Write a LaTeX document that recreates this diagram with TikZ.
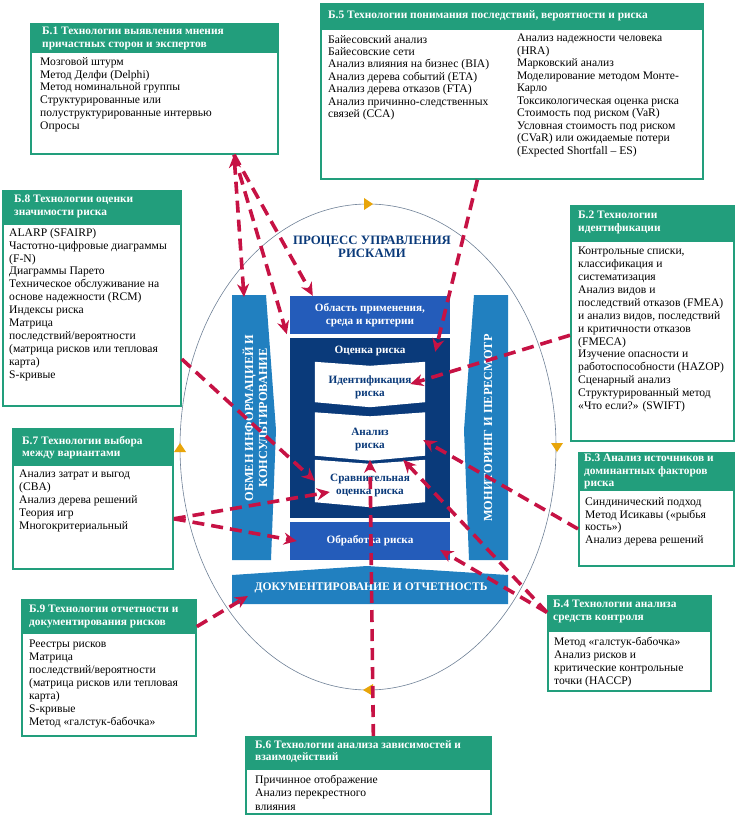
\documentclass[tikz,border=0pt]{standalone}
\usepackage{fontspec}
\setmainfont{Liberation Serif}
\usetikzlibrary{arrows.meta,calc}

\definecolor{boxgreen}{RGB}{34,158,124}
\definecolor{barblue}{RGB}{33,128,192}
\definecolor{midblue}{RGB}{36,92,186}
\definecolor{navy}{RGB}{10,58,122}
\definecolor{dashred}{RGB}{198,18,68}
\definecolor{markorange}{RGB}{232,165,10}
\definecolor{ringgray}{RGB}{110,128,150}

\tikzset{
  techbox/.style={draw=boxgreen, line width=1.8pt, fill=white, anchor=north west, inner sep=0pt},
  headtext/.style={anchor=north west, inner sep=0pt, align=left, text=white,
    font=\fontsize{11.4}{12.6}\selectfont\bfseries},
  listtext/.style={anchor=north west, inner sep=0pt, align=left,
    font=\fontsize{11.6}{12.9}\selectfont},
  block/.style={inner sep=0pt, minimum width=160pt, align=center, text=white,
    font=\fontsize{11.2}{13.5}\selectfont\bfseries},
  panel/.style={inner sep=0pt, minimum width=110pt, align=center, text=navy,
    font=\fontsize{11.2}{13}\selectfont\bfseries},
  bartext/.style={inner sep=0pt, align=center, text=white,
    font=\fontsize{12.3}{14}\selectfont\bfseries},
  link/.style={dashred, line width=3.6pt, dash pattern=on 12pt off 7pt,
    -{Stealth[length=13pt,width=12pt]}}
}

\begin{document}
\begin{tikzpicture}[x=1pt,y=1pt]
  \useasboundingbox (0,0) rectangle (734,-818);

  % process ring and its markers
  \draw[ringgray, line width=0.6pt] (368,-447) ellipse [x radius=188pt, y radius=243pt];
  \fill[markorange] (364,-198) -- (373,-204) -- (364,-210) -- cycle;
  \fill[markorange] (551,-443) -- (563,-443) -- (557,-452) -- cycle;
  \fill[markorange] (373,-684) -- (363,-690) -- (373,-696) -- cycle;
  \fill[markorange] (174,-452) -- (186,-452) -- (180,-443) -- cycle;

  \node[text=navy, align=center, font=\fontsize{12.8}{13.5}\selectfont\bfseries] (title)
    at (372,-247) {ПРОЦЕСС УПРАВЛЕНИЯ\\РИСКАМИ};

  % side and bottom bars
  \fill[barblue] (232,-295) -- (266,-295) -- (276,-430) -- (271,-560) -- (232,-560) -- cycle;
  \fill[barblue] (508,-295) -- (474,-295) -- (464,-430) -- (469,-560) -- (508,-560) -- cycle;
  \fill[barblue] (232,-575) -- (367,-566) -- (508,-575) -- (508,-604) -- (232,-604) -- cycle;
  \node[bartext, rotate=90] (consult) at (255,-418) {ОБМЕН ИНФОРМАЦИЕЙ И\\КОНСУЛЬТИРОВАНИЕ};
  \node[bartext, rotate=90] (monitor) at (488,-428) {МОНИТОРИНГ И ПЕРЕСМОТР};
  \node[bartext, font=\fontsize{11.6}{13}\selectfont\bfseries] (record) at (371,-588)
    {ДОКУМЕНТИРОВАНИЕ И ОТЧЕТНОСТЬ};

  % central blocks
  \node[block, fill=midblue, minimum height=38pt] (scope) at (370,-315)
    {Область применения,\\среда и критерии};
  \node[fill=navy, inner sep=0pt, minimum width=160pt, minimum height=180pt] (assess) at (370,-428) {};
  \node[block, anchor=north] (assesslbl) at ([yshift=-8pt]assess.north) {Оценка риска};
  \node[block, fill=midblue, minimum height=38pt] (treat) at (370,-541) {Обработка риска};

  \node[panel, minimum height=40pt] (ident) at (370,-382) {};
  \node[panel, minimum height=43pt] (analys) at (370,-434) {};
  \node[panel, minimum height=42pt] (evalu) at (370,-481) {};
  \foreach \p in {ident,analys,evalu}
    \fill[white] (\p.north west) -- ([yshift=-4pt]\p.north) -- (\p.north east)
      -- (\p.south east) -- ([yshift=-5pt]\p.south) -- (\p.south west) -- cycle;
  \node[panel] at (370,-387) {Идентификация\\риска};
  \node[panel] at (370,-439) {Анализ\\риска};
  \node[panel] at (370,-485) {Сравнительная\\оценка риска};

  % technique boxes
  \node[techbox, minimum width=247pt, minimum height=130pt] (b1) at (30,-23) {};
  \fill[boxgreen] (b1.north west) rectangle ([yshift=-30pt]b1.north east);
  \node[headtext] at (42,-27) {Б.1 Технологии выявления мнения\\причастных сторон и экспертов};
  \node[listtext] at (40,-57) {Мозговой штурм\\Метод Делфи (Delphi)\\Метод номинальной группы\\
    Структурированные или\\полуструктурированные интервью\\Опросы};

  \node[techbox, minimum width=382pt, minimum height=175pt] (b5) at (320,-3) {};
  \fill[boxgreen] (b5.north west) rectangle ([yshift=-27pt]b5.north east);
  \node[headtext] at (328,-10) {Б.5 Технологии понимания последствий, вероятности и риска};
  \node[listtext, font=\fontsize{11.6}{12.4}\selectfont] at (328,-35)
    {Байесовский анализ\\Байесовские сети\\Анализ влияния на бизнес (BIA)\\
    Анализ дерева событий (ETA)\\Анализ дерева отказов (FTA)\\
    Анализ причинно-следственных\\связей (CCA)};
  \node[listtext, font=\fontsize{11.6}{12.5}\selectfont] at (517,-34)
    {Анализ надежности человека\\(HRA)\\Марковский анализ\\Моделирование методом Монте-\\
    Карло\\Токсикологическая оценка риска\\Стоимость под риском (VaR)\\
    Условная стоимость под риском\\(CVaR) или ожидаемые потери\\(Expected Shortfall -- ES)};

  \node[techbox, minimum width=178pt, minimum height=215pt] (b8) at (2,-190) {};
  \fill[boxgreen] (b8.north west) rectangle ([yshift=-35pt]b8.north east);
  \node[headtext] at (14,-195) {Б.8 Технологии оценки\\значимости риска};
  \node[listtext] at (9,-228) {ALARP (SFAIRP)\\Частотно-цифровые диаграммы\\(F-N)\\Диаграммы Парето\\
    Техническое обслуживание на\\основе надежности (RCM)\\Индексы риска\\Матрица\\
    последствий/вероятности\\(матрица рисков или тепловая\\карта)\\S-кривые};

  \node[techbox, minimum width=163pt, minimum height=235pt] (b2) at (570,-205) {};
  \fill[boxgreen] (b2.north west) rectangle ([yshift=-37pt]b2.north east);
  \node[headtext] at (578,-211) {Б.2 Технологии\\идентификации};
  \node[listtext] at (578,-247) {Контрольные списки,\\классификация и\\систематизация\\Анализ видов и\\
    последствий отказов (FMEA)\\и анализ видов, последствий\\и критичности отказов\\(FMECA)\\
    Изучение опасности и\\работоспособности (HAZOP)\\Сценарный анализ\\
    Структурированный метод\\«Что если?» (SWIFT)};

  \node[techbox, minimum width=160pt, minimum height=140pt] (b7) at (12,-428) {};
  \fill[boxgreen] (b7.north west) rectangle ([yshift=-38pt]b7.north east);
  \node[headtext] at (22,-436) {Б.7 Технологии выбора\\между вариантами};
  \node[listtext] at (19,-470) {Анализ затрат и выгод\\(CBA)\\Анализ дерева решений\\Теория игр\\
    Многокритериальный};

  \node[techbox, minimum width=155pt, minimum height=113pt] (b3) at (578,-452) {};
  \fill[boxgreen] (b3.north west) rectangle ([yshift=-39pt]b3.north east);
  \node[headtext] at (584,-454) {Б.3 Анализ источников и\\доминантных факторов\\риска};
  \node[listtext] at (585,-497) {Синдинический подход\\Метод Исикавы («рыбья\\кость»)\\
    Анализ дерева решений};

  \node[techbox, minimum width=174pt, minimum height=136pt] (b9) at (21,-599) {};
  \fill[boxgreen] (b9.north west) rectangle ([yshift=-35pt]b9.north east);
  \node[headtext] at (29,-605) {Б.9 Технологии отчетности и\\документирования рисков};
  \node[listtext] at (29,-640) {Реестры рисков\\Матрица\\последствий/вероятности\\
    (матрица рисков или тепловая\\карта)\\S-кривые\\Метод «галстук-бабочка»};

  \node[techbox, minimum width=163pt, minimum height=95pt] (b4) at (547,-595) {};
  \fill[boxgreen] (b4.north west) rectangle ([yshift=-37pt]b4.north east);
  \node[headtext] at (553,-600) {Б.4 Технологии анализа\\средств контроля};
  \node[listtext] at (554,-637) {Метод «галстук-бабочка»\\Анализ рисков и\\
    критические контрольные\\точки (HACCP)};

  \node[techbox, minimum width=245pt, minimum height=77pt] (b6) at (245,-736) {};
  \fill[boxgreen] (b6.north west) rectangle ([yshift=-34pt]b6.north east);
  \node[headtext] at (255,-740) {Б.6 Технологии анализа зависимостей и\\взаимодействий};
  \node[listtext, font=\fontsize{11.6}{13.3}\selectfont] at (255,-775)
    {Причинное отображение\\Анализ перекрестного\\влияния};

  % links from the boxes to the process
  \coordinate (b1out) at ($(b1.south west)!0.82!(b1.south east)$);
  \coordinate (b5out) at ($(b5.south west)!0.41!(b5.south east)$);
  \coordinate (b2out) at ($(b2.north west)!0.55!(b2.south west)$);
  \coordinate (b8out) at ($(b8.north east)!0.78!(b8.south east)$);
  \coordinate (b7out) at ($(b7.north east)!0.64!(b7.south east)$);
  \coordinate (b3out) at ($(b3.north west)!0.67!(b3.south west)$);
  \coordinate (b9out) at ($(b9.north east)!0.2!(b9.south east)$);
  \coordinate (b4out) at ($(b4.north west)!0.18!(b4.south west)$);
  \coordinate (b6out) at ($(b6.north west)!0.52!(b6.north east)$);
  \coordinate (consulttop) at (244,-297);
  \coordinate (recordleft) at (248,-596);

  \draw[link, {Stealth[length=13pt,width=12pt]}-{Stealth[length=13pt,width=12pt]}] (b1out) -- (consulttop);
  \draw[link] (b1out) -- ([xshift=-3pt]scope.south west);
  \draw[link] (b1out) -- ([xshift=23pt]scope.north west);
  \draw[link] (b5out) -- ([xshift=-15pt,yshift=-14pt]assess.north east);
  \draw[link] (b2out) -- ([xshift=-15pt,yshift=-2pt]ident.east);
  \draw[link] (b8out) -- (evalu.west);
  \draw[link] (b7out) -- ([xshift=15pt,yshift=-11pt]evalu.west);
  \draw[link] (b7out) -- ([xshift=7pt]treat.west);
  \draw[link] (b9out) -- (recordleft);
  \draw[link] (b3out) -- ([xshift=-2pt,yshift=-6pt]analys.east);
  \draw[link] (b4out) -- ([xshift=-22pt]evalu.north east);
  \draw[link] (b4out) -- ([xshift=-10pt,yshift=-9pt]treat.east);
  \draw[link] (b6out) -- (evalu.north);
\end{tikzpicture}
\end{document}
